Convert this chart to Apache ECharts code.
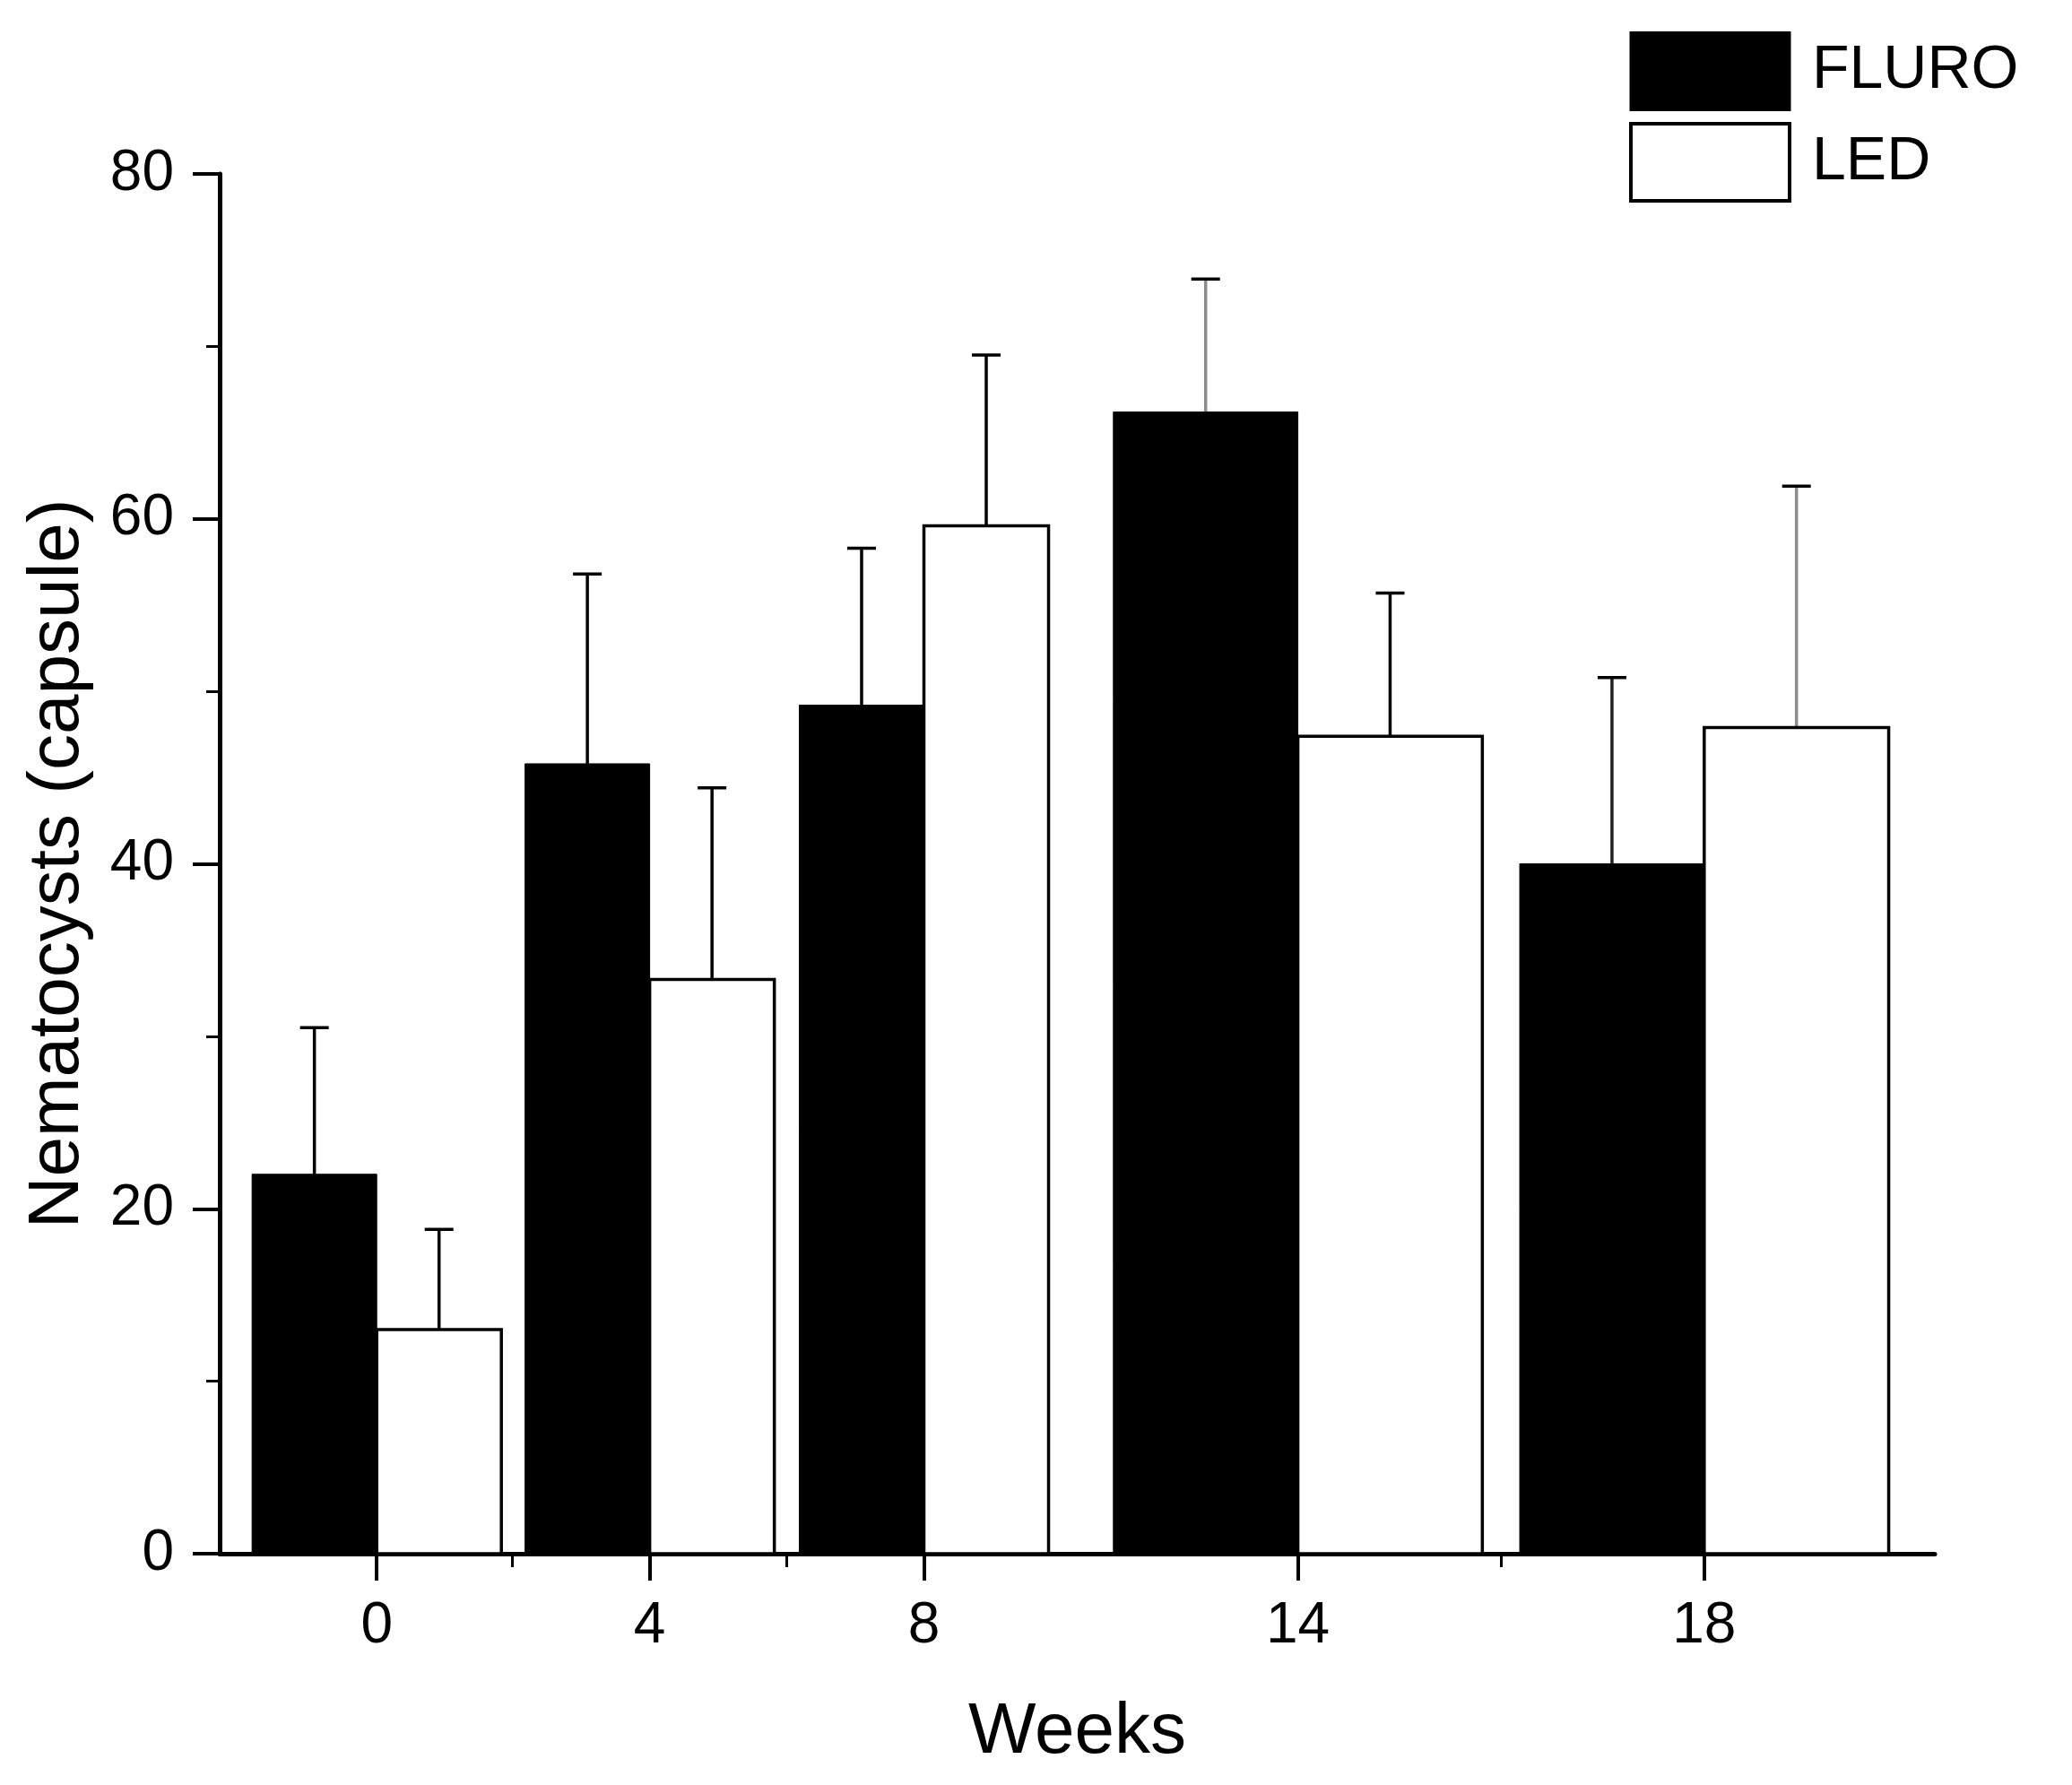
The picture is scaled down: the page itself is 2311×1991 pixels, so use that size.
<!DOCTYPE html>
<html>
<head>
<meta charset="utf-8">
<script src="https://cdn.jsdelivr.net/npm/echarts@6/dist/echarts.min.js"></script>
<style>
html,body{margin:0;padding:0;background:#fff;}
#chart{width:2311px;height:1991px;}
</style>
</head>
<body>
<div id="chart"></div>
<script>
// ---- data ----
const weeks = ['0', '4', '8', '14', '18'];
const fluro = [22.0, 45.8, 49.2, 66.2, 40.0];
const fluroErr = [8.5, 11.0, 9.1, 7.7, 10.8];
const led = [13.0, 33.3, 59.6, 47.4, 47.9];
const ledErr = [5.8, 11.1, 9.9, 8.3, 14.0];
const yTicks = [0, 20, 40, 60, 80];

// ---- layout (axis units along x, one unit = one narrow bar) ----
const groupCenter = [1.26, 3.45, 5.65, 8.65, 11.91];
const barWidth = [1.0, 1.0, 1.0, 1.48, 1.48];
const minorTicks = [2.35, 4.55, 10.28];
const xMax = 13.76;

// ---- styles ----
const FONT = 'Liberation Sans, Arial, sans-serif';
const fluroErrColor = ['#000', '#000', '#000', '#8c8c8c', '#222'];
const ledErrColor = ['#000', '#000', '#000', '#000', '#8c8c8c'];

function makeRender(side, errColors, fill, stroke, strokeW) {
  return function (params, api) {
    const i = api.value(0);
    const v = api.value(1);
    const e = api.value(2);
    const c = groupCenter[i], w = barWidth[i];
    const x0 = side < 0 ? c - w : c;
    const x1 = side < 0 ? c : c + w;
    const xm = (x0 + x1) / 2;
    const tl = api.coord([x0, v]);
    const br = api.coord([x1, 0]);
    const pm = api.coord([xm, v]);
    const pe = api.coord([xm, v + e]);
    const cap = 16;
    return {
      type: 'group',
      children: [
        {
          type: 'line',
          shape: { x1: pm[0], y1: pm[1], x2: pe[0], y2: pe[1] },
          style: { stroke: errColors[i], lineWidth: 3.5 }
        },
        {
          type: 'line',
          shape: { x1: pe[0] - cap, y1: pe[1], x2: pe[0] + cap, y2: pe[1] },
          style: { stroke: '#000', lineWidth: 3.5 }
        },
        {
          type: 'rect',
          shape: { x: tl[0], y: tl[1], width: br[0] - tl[0], height: br[1] - tl[1] },
          style: { fill: fill, stroke: stroke, lineWidth: strokeW }
        }
      ]
    };
  };
}

const chart = echarts.init(document.getElementById('chart'), null, { renderer: 'canvas' });

const option = {
  backgroundColor: '#fff',
  animation: false,
  grid: { left: 245, right: 153, top: 194, bottom: 258, containLabel: false },
  legend: {
    orient: 'vertical',
    left: 1817,
    top: 35,
    itemWidth: 177,
    itemHeight: 86,
    itemGap: 12,
    padding: 0,
    selectedMode: false,
    textStyle: { fontSize: 68, fontFamily: FONT, color: '#000', padding: [0, 0, 0, 20] },
    data: [
      { name: 'FLURO', icon: 'rect', itemStyle: { color: '#000', borderColor: '#000', borderWidth: 3 } },
      { name: 'LED', icon: 'rect', itemStyle: { color: '#fff', borderColor: '#000', borderWidth: 4 } }
    ]
  },
  xAxis: [
    {
      type: 'value',
      min: 0,
      max: xMax,
      name: 'Weeks',
      nameLocation: 'middle',
      nameGap: 160,
      nameTextStyle: { fontSize: 80, fontFamily: FONT, color: '#000' },
      axisLine: { show: true, onZero: false, lineStyle: { color: '#000', width: 5 } },
      axisTick: { show: true, customValues: groupCenter, length: 30, lineStyle: { color: '#000', width: 4 } },
      axisLabel: {
        show: true,
        customValues: groupCenter,
        margin: 49,
        fontSize: 64,
        fontFamily: FONT,
        color: '#000',
        formatter: function (val) {
          let best = 0, bd = Infinity;
          groupCenter.forEach(function (g, k) { const d = Math.abs(g - val); if (d < bd) { bd = d; best = k; } });
          return weeks[best];
        }
      },
      splitLine: { show: false }
    },
    {
      type: 'value',
      min: 0,
      max: xMax,
      position: 'bottom',
      axisLine: { show: false },
      axisTick: { show: true, customValues: minorTicks, length: 15, lineStyle: { color: '#000', width: 3 } },
      axisLabel: { show: false, customValues: minorTicks },
      splitLine: { show: false }
    }
  ],
  yAxis: {
    type: 'value',
    min: 0,
    max: 80,
    interval: 20,
    name: 'Nematocysts (capsule)',
    nameLocation: 'middle',
    nameGap: 140,
    nameTextStyle: { fontSize: 80, fontFamily: FONT, color: '#000' },
    axisLine: { show: true, lineStyle: { color: '#000', width: 5 } },
    axisTick: { show: true, length: 30, lineStyle: { color: '#000', width: 4 } },
    minorTick: { show: true, splitNumber: 2, length: 15, lineStyle: { color: '#000', width: 3 } },
    axisLabel: {
      margin: 51,
      fontSize: 64,
      fontFamily: FONT,
      color: '#000',
      customValues: yTicks
    },
    splitLine: { show: false },
    minorSplitLine: { show: false }
  },
  series: [
    {
      name: 'FLURO',
      type: 'custom',
      xAxisIndex: 0,
      itemStyle: { color: '#000' },
      renderItem: makeRender(-1, fluroErrColor, '#000', '#000', 1),
      encode: { x: 0, y: 1 },
      data: weeks.map(function (w, i) { return [i, fluro[i], fluroErr[i]]; }),
      z: 2
    },
    {
      name: 'LED',
      type: 'custom',
      xAxisIndex: 0,
      itemStyle: { color: '#fff', borderColor: '#000' },
      renderItem: makeRender(1, ledErrColor, '#fff', '#000', 3.5),
      encode: { x: 0, y: 1 },
      data: weeks.map(function (w, i) { return [i, led[i], ledErr[i]]; }),
      z: 3
    }
  ]
};

chart.setOption(option);
</script>
</body>
</html>
